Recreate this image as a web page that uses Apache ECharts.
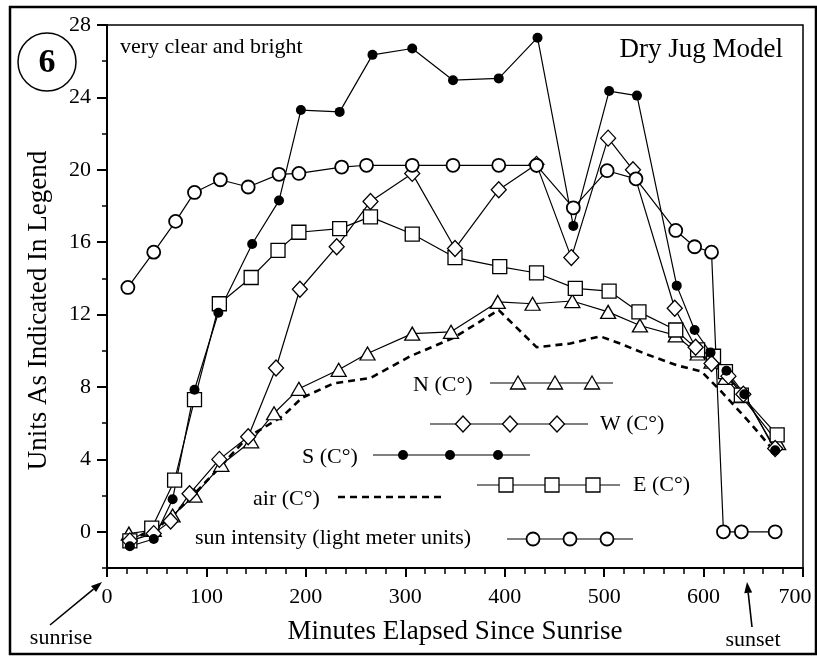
<!DOCTYPE html>
<html><head><meta charset="utf-8">
<script src="https://cdn.jsdelivr.net/npm/echarts@6/dist/echarts.min.js"></script>
<style>html,body{margin:0;padding:0;background:#fff}#c{width:817px;height:656px}</style>
</head><body><div id="c"></div>
<script>
// ---- data (minutes since sunrise, value) ----
const yTickLabels = [0, 4, 8, 12, 16, 20, 24, 28];
const yMinorTicks = [-2, 2, 6, 10, 14, 18, 22, 26];
const seriesNames = ['N (C°)', 'W (C°)', 'S (C°)', 'E (C°)', 'air (C°)', 'sun intensity (light meter units)'];

const northTemp = [[22,-0.1],[47,0.1],[66,0.9],[88,2.0],[115,3.7],[145,5.0],[168,6.55],[193,7.9],[233,8.95],[262,9.85],[307,10.95],[346,11.05],[393,12.7],[428,12.6],[468,12.75],[504,12.15],[536,11.4],[572,10.85],[594,9.85],[608,9.4],[622,8.5],[638,7.5],[675,4.9]];
const westTemp = [[23,-0.5],[47,-0.1],[64,0.6],[83,2.1],[113,4.0],[142,5.25],[170,9.05],[194,13.4],[231,15.75],[265,18.25],[307,19.8],[350,15.65],[394,18.9],[432,20.3],[467,15.15],[504,21.75],[529,20.0],[571,12.35],[592,10.2],[608,9.3],[625,8.6],[640,7.6],[672,4.6]];
const southTemp = [[23,-0.8],[47,-0.4],[66,1.8],[88,7.85],[112,12.1],[146,15.9],[173,18.3],[195,23.3],[234,23.2],[267,26.35],[307,26.7],[348,24.95],[394,25.05],[433,27.3],[469,16.9],[505,24.35],[533,24.1],[573,13.6],[591,11.15],[607,9.9],[623,8.9],[641,7.6],[672,4.5]];
const eastTemp = [[23,-0.5],[45,0.2],[68,2.85],[88,7.3],[113,12.6],[145,14.05],[172,15.55],[193,16.55],[234,16.75],[265,17.4],[307,16.45],[350,15.15],[395,14.65],[432,14.3],[471,13.45],[505,13.3],[535,12.15],[572,11.15],[594,10.05],[610,9.7],[622,8.85],[638,7.55],[674,5.35]];
const airTemp = [[22,-0.4],[46,0],[66,0.9],[88,2.1],[114,3.6],[141,5.2],[177,6.4],[196,7.4],[228,8.2],[265,8.5],[305,9.7],[348,10.7],[394,12.25],[432,10.2],[466,10.4],[496,10.8],[516,10.4],[543,9.8],[573,9.2],[598,8.85],[617,7.8],[647,6.0],[672,4.4]];
const sunIntensity = [[21,13.5],[47,15.45],[69,17.15],[88,18.75],[114,19.45],[142,19.05],[173,19.75],[193,19.8],[236,20.15],[261,20.25],[307,20.25],[348,20.25],[394,20.25],[432,20.25],[469,17.9],[503,19.95],[532,19.5],[572,16.65],[591,15.75],[608,15.45],[620,0],[638,0],[672,0]];

const FONT = 'Liberation Serif';
const chart = echarts.init(document.getElementById('c'), null, {renderer: 'canvas'});

const hollow = {color: '#fff', borderColor: '#000', borderWidth: 1.3};
const lineSt = {color: '#000', width: 1.2};
function mk(name, data, symbol, size, item, extra) {
  return Object.assign({
    name, type: 'line', data, symbol, symbolSize: size, showSymbol: true,
    itemStyle: item, lineStyle: lineSt, animation: false, z: 3
  }, extra || {});
}

// ---- annotation / legend graphics ----
const g = [];
function txt(s, x, y, size, opts) {
  g.push(Object.assign({type: 'text', x, y, z: 10, style: Object.assign({text: s, fontFamily: FONT, fontSize: size, fill: '#000', textVerticalAlign: 'middle', textAlign: 'left'}, opts || {})}));
}
function hline(x1, x2, y, dash, w) {
  g.push({type: 'line', z: 10, shape: {x1, y1: y, x2, y2: y}, style: {stroke: '#000', lineWidth: w || 1.2, lineDash: dash || null}});
}
function tri(cx, cy) { g.push({type: 'polygon', z: 11, shape: {points: [[cx, cy - 7], [cx + 7.5, cy + 6], [cx - 7.5, cy + 6]]}, style: {fill: '#fff', stroke: '#000', lineWidth: 1.3}}); }
function dia(cx, cy) { g.push({type: 'polygon', z: 11, shape: {points: [[cx, cy - 8], [cx + 7.5, cy], [cx, cy + 8], [cx - 7.5, cy]]}, style: {fill: '#fff', stroke: '#000', lineWidth: 1.3}}); }
function sq(cx, cy) { g.push({type: 'rect', z: 11, shape: {x: cx - 7, y: cy - 7, width: 14, height: 14}, style: {fill: '#fff', stroke: '#000', lineWidth: 1.3}}); }
function circ(cx, cy) { g.push({type: 'circle', z: 11, shape: {cx, cy, r: 6.5}, style: {fill: '#fff', stroke: '#000', lineWidth: 1.8}}); }
function dot(cx, cy) { g.push({type: 'circle', z: 11, shape: {cx, cy, r: 5}, style: {fill: '#000'}}); }
function arrow(x1, y1, x2, y2) {
  const dx = x2 - x1, dy = y2 - y1, L = Math.hypot(dx, dy), ux = dx / L, uy = dy / L, hl = 11, hw = 4;
  const bx = x2 - ux * hl, by = y2 - uy * hl;
  g.push({type: 'line', z: 10, shape: {x1, y1, x2: bx, y2: by}, style: {stroke: '#000', lineWidth: 1.6}});
  g.push({type: 'polygon', z: 10, shape: {points: [[x2, y2], [bx - uy * hw, by + ux * hw], [bx + uy * hw, by - ux * hw]]}, style: {fill: '#000'}});
}

// outer frame
g.push({type: 'rect', z: 1, shape: {x: 10, y: 7, width: 806, height: 647}, style: {fill: null, stroke: '#000', lineWidth: 2.5}});
// circled number
g.push({type: 'circle', z: 10, shape: {cx: 47, cy: 62, r: 29}, style: {fill: null, stroke: '#000', lineWidth: 1.5}});
txt('6', 47, 63, 34, {fontWeight: 'bold', textAlign: 'center'});
txt('very clear and bright', 120, 47, 22);
txt('Dry Jug Model', 783, 50, 27, {textAlign: 'right'});

// legend rows
txt(seriesNames[0], 413, 385, 22);
hline(490, 613, 383); tri(518, 383); tri(555, 383); tri(592, 383);
hline(430, 588, 424); dia(463, 424); dia(510, 424); dia(557, 424);
txt(seriesNames[1], 600, 424, 22);
txt(seriesNames[2], 302, 457, 22);
hline(373, 530, 455); dot(403, 455); dot(450, 455); dot(498, 455);
hline(477, 620, 485); sq(506, 485); sq(552, 485); sq(593, 485);
txt(seriesNames[3], 633, 485, 22);
txt(seriesNames[4], 253, 499, 22);
hline(338, 443, 497, [7, 5], 2.6);
txt(seriesNames[5], 195, 538, 22);
hline(507, 633, 539); circ(533, 539); circ(570, 539); circ(607, 539);

// sunrise / sunset
txt('sunrise', 61, 638, 22, {textAlign: 'center'});
arrow(50, 625, 102, 582);
txt('sunset', 753, 640, 22, {textAlign: 'center'});
arrow(752, 627, 747, 582);

const axisFont = {fontFamily: FONT, fontSize: 22, color: '#000'};
chart.setOption({
  animation: false,
  backgroundColor: '#fff',
  grid: {left: 107, top: 25, right: 14, bottom: 88, outerBoundsMode: 'none', containLabel: false,
         show: true, borderColor: '#000', borderWidth: 1.5, backgroundColor: 'transparent'},
  xAxis: {
    type: 'value', min: 0, max: 700, interval: 100,
    axisLine: {onZero: false, lineStyle: {color: '#000', width: 2}},
    axisTick: {length: 9, lineStyle: {color: '#000', width: 2}},
    minorTick: {show: true, splitNumber: 5, length: 6, lineStyle: {color: '#000', width: 1.5}},
    splitLine: {show: false}, minorSplitLine: {show: false},
    axisLabel: Object.assign({
      margin: 18,
      formatter: v => v === 700 ? '{m|' + v + '}' : String(v),
      rich: {m: {fontFamily: FONT, fontSize: 22, color: '#000', padding: [0, 16, 0, 0]}}
    }, axisFont),
    name: 'Minutes Elapsed Since Sunrise', nameLocation: 'middle', nameGap: 50,
    nameTextStyle: {fontFamily: FONT, fontSize: 27, color: '#000'}
  },
  yAxis: [{
    type: 'value', min: -2, max: 28, interval: 2,
    axisLine: {show: true, onZero: false, lineStyle: {color: '#000', width: 2}},
    axisTick: {show: true, length: 10, customValues: yTickLabels, lineStyle: {color: '#000', width: 2}},
    axisLabel: Object.assign({margin: 16, customValues: yTickLabels}, axisFont),
    splitLine: {show: false},
    name: 'Units As Indicated In Legend', nameLocation: 'middle', nameGap: 55,
    nameTextStyle: {fontFamily: FONT, fontSize: 27, color: '#000', padding: [0, 28, 0, 0]}
  }, {
    type: 'value', min: -2, max: 28, interval: 2, position: 'left', offset: 0,
    axisLine: {show: false},
    axisTick: {show: true, length: 5, customValues: yMinorTicks, lineStyle: {color: '#000', width: 1.5}},
    axisLabel: {show: false}, splitLine: {show: false}
  }],
  series: [
    mk(seriesNames[4], airTemp, 'none', 0, {color: '#000'}, {lineStyle: {color: '#000', width: 2.6, type: [7, 5]}, z: 2}),
    mk(seriesNames[0], northTemp, 'triangle', [15, 13], hollow),
    mk(seriesNames[3], eastTemp, 'rect', [14, 14], hollow),
    mk(seriesNames[1], westTemp, 'diamond', [15, 16], hollow),
    mk(seriesNames[2], southTemp, 'circle', 10, {color: '#000'}),
    mk(seriesNames[5], sunIntensity, 'circle', 13, {color: '#fff', borderColor: '#000', borderWidth: 1.8})
  ],
  graphic: g
});
</script></body></html>
